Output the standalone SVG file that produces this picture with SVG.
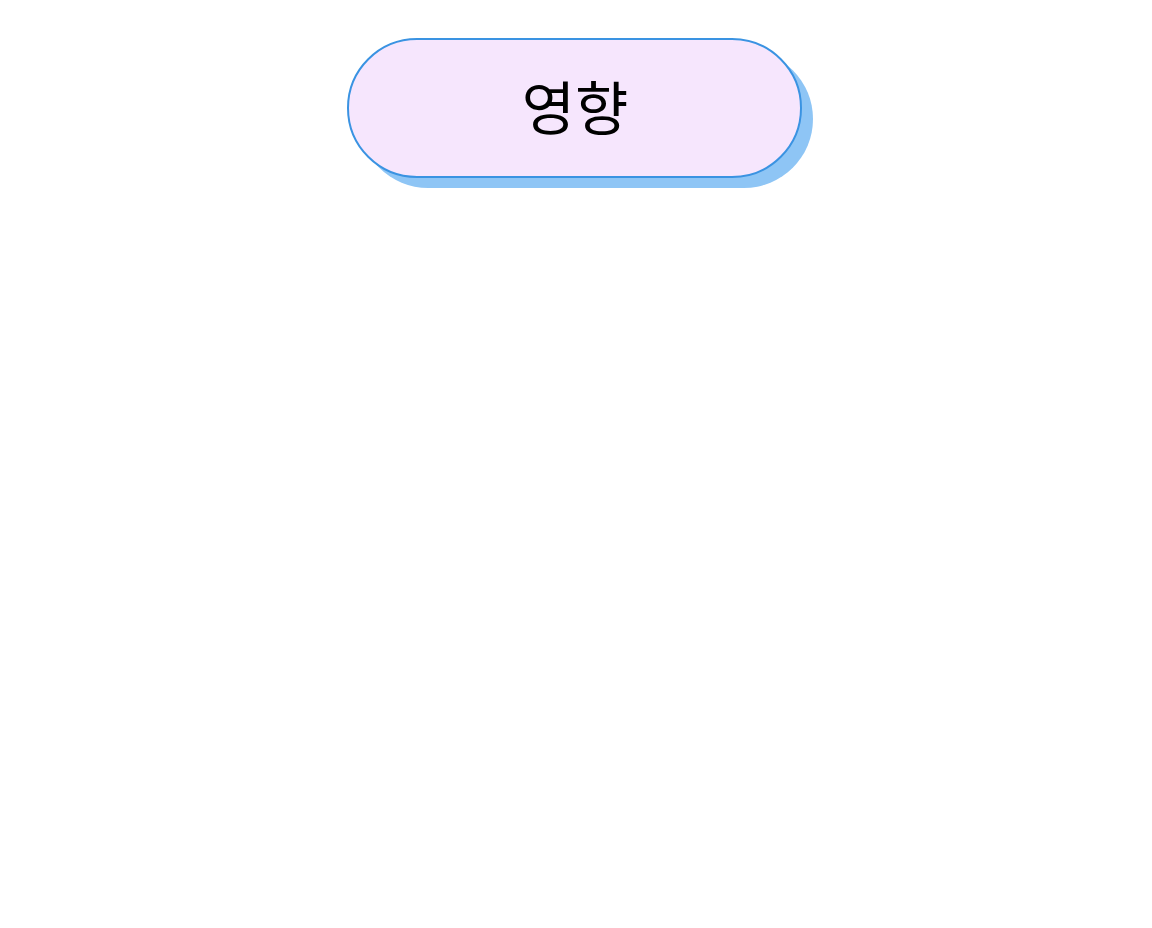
<svg xmlns="http://www.w3.org/2000/svg" width="1152" height="928" viewBox="0 0 1152 928">
<style>
.node-shadow{fill:#8ec5f5;}
.node-shape{fill:#f6e6fd;stroke:#3a93e2;stroke-width:2;}
.label{font-family:"Noto Sans CJK KR","Noto Sans",sans-serif;font-size:58px;fill:#000;text-anchor:middle;dominant-baseline:central;}
</style>
<rect width="1152" height="928" fill="#ffffff"/>
<g id="connectors"></g>
<g id="node-influence">
<rect class="node-shadow" x="359" y="50" width="454" height="138" rx="69" ry="69"/>
<rect class="node-shape" x="348" y="39" width="453" height="138" rx="69" ry="69"/>
<text class="label" x="575" y="105">영향</text>
</g>
</svg>
